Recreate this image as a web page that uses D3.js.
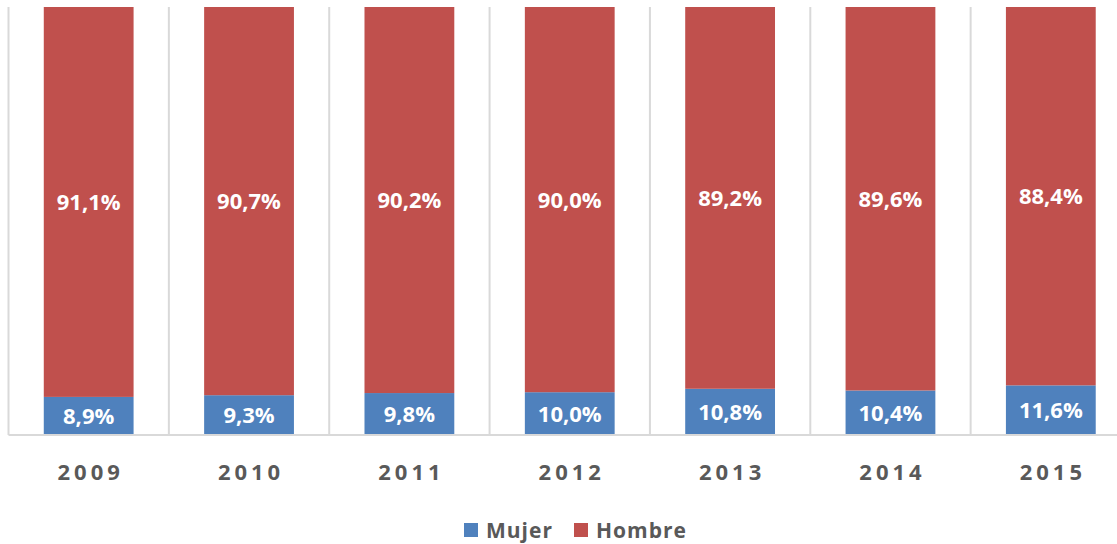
<!DOCTYPE html>
<html>
<head>
<meta charset="utf-8">
<script src="https://cdn.jsdelivr.net/npm/d3@7"></script>
<style>
  body { margin: 0; background: #fff; }
  svg { display: block; }
</style>
</head>
<body>
<div id="chart-area"></div>
<script>
// data
var years = ["2009", "2010", "2011", "2012", "2013", "2014", "2015"];
var mujer = [8.9, 9.3, 9.8, 10.0, 10.8, 10.4, 11.6];
var hombre = [91.1, 90.7, 90.2, 90.0, 89.2, 89.6, 88.4];
var seriesNames = ["Mujer", "Hombre"];
var seriesColors = ["#4F81BD", "#C0504D"];

var W = 1117, H = 544;
var plot = { left: 8.5, right: 1131, top: 7, bottom: 435 };

var svg = d3.select("#chart-area").append("svg")
    .attr("width", W)
    .attr("height", H);

var rows = years.map(function(y, i){
    return { year: y, Mujer: mujer[i], Hombre: hombre[i] };
});

// scales
var x = d3.scaleBand().domain(years)
    .range([plot.left, plot.right])
    .paddingInner(0.44).paddingOuter(0.22);
var y = d3.scaleLinear().domain([0, 100]).range([plot.bottom, plot.top]);
var color = d3.scaleOrdinal().domain(seriesNames).range(seriesColors);

// vertical grid lines between categories
var step = x.step();
var gridX = years.map(function(d){ return x(d) - x.paddingOuter() * step; });
gridX.push(plot.right);
svg.append("g").selectAll("line")
    .data(gridX)
    .enter().append("line")
    .attr("x1", function(d){ return d; })
    .attr("x2", function(d){ return d; })
    .attr("y1", plot.top)
    .attr("y2", plot.bottom)
    .attr("stroke", "#D9D9D9")
    .attr("stroke-width", 2);

// stacked bars
var stack = d3.stack().keys(seriesNames)(rows);
var layers = svg.append("g").selectAll("g")
    .data(stack)
    .enter().append("g")
    .attr("fill", function(d){ return color(d.key); });

layers.selectAll("rect")
    .data(function(d){ return d; })
    .enter().append("rect")
    .attr("x", function(d){ return x(d.data.year); })
    .attr("width", x.bandwidth())
    .attr("y", function(d){ return y(d[1]); })
    .attr("height", function(d){ return y(d[0]) - y(d[1]); });

// value labels
layers.selectAll("text")
    .data(function(d){ return d; })
    .enter().append("text")
    .attr("x", function(d){ return x(d.data.year) + x.bandwidth() / 2; })
    .attr("y", function(d){ return (y(d[0]) + y(d[1])) / 2; })
    .attr("dy", "0.36em")
    .attr("text-anchor", "middle")
    .attr("fill", "#fff")
    .attr("font-family", "'Open Sans', sans-serif")
    .attr("font-weight", "bold")
    .attr("font-size", "22px")
    .text(function(d){ return (d[1] - d[0]).toFixed(1).replace(".", ",") + "%"; });

// x axis
var xAxis = svg.append("g")
    .attr("transform", "translate(0," + plot.bottom + ")")
    .call(d3.axisBottom(x).tickSize(0).tickPadding(29));
xAxis.select(".domain")
    .attr("d", "M" + plot.left + ",0H" + plot.right)
    .attr("stroke", "#D9D9D9")
    .attr("stroke-width", 2);
xAxis.selectAll("text")
    .attr("fill", "#595959")
    .attr("font-family", "'Open Sans', sans-serif")
    .attr("font-weight", "bold")
    .attr("font-size", "22px")
    .attr("letter-spacing", "4px")
    .attr("dx", "2px")
    .attr("dy", "0.71em");

// legend
var legend = svg.append("g").attr("transform", "translate(464,530)");
var legendX = [0, 110];
var item = legend.selectAll("g")
    .data(seriesNames)
    .enter().append("g")
    .attr("transform", function(d, i){ return "translate(" + legendX[i] + ",0)"; });
item.append("rect")
    .attr("x", 0).attr("y", -7)
    .attr("width", 14).attr("height", 14)
    .attr("fill", function(d){ return color(d); });
item.append("text")
    .attr("x", 22).attr("dy", "0.36em")
    .attr("fill", "#595959")
    .attr("font-family", "'Open Sans', sans-serif")
    .attr("font-weight", "bold")
    .attr("font-size", "21px")
    .attr("letter-spacing", "1px")
    .text(function(d){ return d; });
</script>
</body>
</html>
